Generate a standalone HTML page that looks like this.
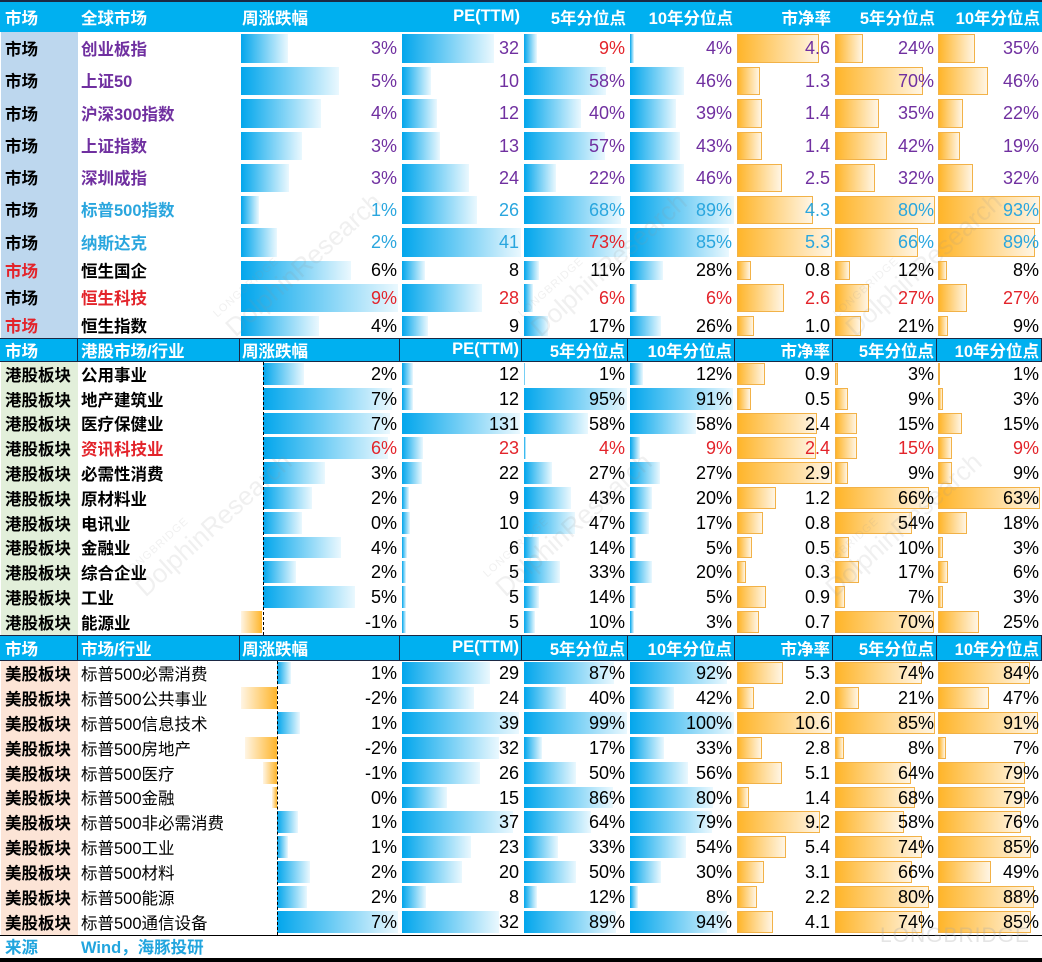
<!DOCTYPE html>
<html><head><meta charset="utf-8">
<style>
*{box-sizing:border-box}
body{margin:0;width:1042px;height:962px;background:#fff;position:relative;overflow:hidden;font-family:"Liberation Sans","Noto Sans CJK SC",sans-serif;color:#000}
.row{position:absolute;left:0;width:1042px}
.c{position:absolute;top:0;bottom:0;display:flex;align-items:center;white-space:nowrap}
.c1{left:0;width:78px}
.c2{left:78px;width:162px}
.c3{left:240px;width:160px}
.c4{left:400px;width:122px}
.c5{left:522px;width:106px}
.c6{left:628px;width:107px}
.c7{left:735px;width:98px}
.c8{left:833px;width:104px}
.c9{left:937px;width:105px}
.v{justify-content:flex-end;padding-right:3px;font-size:18px}
.l{font-size:16.5px;font-weight:bold;padding-left:5px;padding-bottom:2px}
.c2.l{padding-left:3px}
.n{font-weight:normal}
.v span{position:relative;z-index:2}
.c b{position:absolute;top:2px;bottom:2px;left:2px}
.c3 b,.c9 b{left:1px}
.s2 .c b{top:1px;bottom:2px}
.bb{background:linear-gradient(to right,#02A6EC,#EAF8FE)}
.ob{background:linear-gradient(to right,#FFB52A,#FFF5E4);border:1px solid #F2B248}
.nb{background:linear-gradient(to right,#FFF5E4,#FFB52A)}
.pu{color:#7030A0}
.bl{color:#2AA6DE}
.rd{color:#E3242B}
.k{color:#000}
.h{background:#00B0F0;color:#fff;font-weight:bold;font-size:16.5px}
.h .c{padding-left:5px;padding-bottom:1px}
.h .c2{padding-left:3px}
.h .c3{padding-left:2px}
.h .r{justify-content:flex-end;padding-right:2px;padding-left:0}
.h2{border-top:1px solid #1b2844;border-bottom:1px solid #1b2844}
.h2 .c{border-right:1px solid #1b2844}
.wm{position:absolute;color:rgba(150,150,150,0.14);font-size:26px;transform:rotate(-42deg);transform-origin:left bottom;white-space:nowrap;z-index:5}
.wm small{display:block;font-size:11px;letter-spacing:1px}
</style></head><body>

<!-- column 1 backgrounds -->
<div style="position:absolute;left:1px;top:32px;width:77px;height:306px;background:#BDD7EE"></div>
<div style="position:absolute;left:1px;top:362px;width:77px;height:273px;background:#E2EFDA"></div>
<div style="position:absolute;left:1px;top:661px;width:77px;height:274px;background:#FCE4D6"></div>

<!-- header 1 -->
<div class="row h" style="top:0;height:32px;border-top:2px solid #1b2844">
<div class="c c1">市场</div><div class="c c2">全球市场</div><div class="c c3">周涨跌幅</div>
<div class="c c4 r">PE(TTM)</div><div class="c c5 r">5年分位点</div><div class="c c6 r">10年分位点</div>
<div class="c c7 r">市净率</div><div class="c c8 r">5年分位点</div><div class="c c9 r">10年分位点</div>
</div>

<!-- section 1 -->
<div class="row pu" style="top:32px;height:33px">
<div class="c c1 l k">市场</div><div class="c c2 l">创业板指</div>
<div class="c c3 v"><b class="bb" style="width:47px"></b><span>3%</span></div>
<div class="c c4 v"><b class="bb" style="width:92px"></b><span>32</span></div>
<div class="c c5 v rd"><b class="bb" style="width:13px"></b><span>9%</span></div>
<div class="c c6 v"><b class="bb" style="width:4px"></b><span>4%</span></div>
<div class="c c7 v"><b class="ob" style="width:82px"></b><span>4.6</span></div>
<div class="c c8 v"><b class="ob" style="width:28px"></b><span>24%</span></div>
<div class="c c9 v"><b class="ob" style="width:37px"></b><span>35%</span></div>
</div>
<div class="row pu" style="top:65px;height:32px">
<div class="c c1 l k">市场</div><div class="c c2 l">上证50</div>
<div class="c c3 v"><b class="bb" style="width:98px"></b><span>5%</span></div>
<div class="c c4 v"><b class="bb" style="width:29px"></b><span>10</span></div>
<div class="c c5 v"><b class="bb" style="width:82px"></b><span>58%</span></div>
<div class="c c6 v"><b class="bb" style="width:54px"></b><span>46%</span></div>
<div class="c c7 v"><b class="ob" style="width:23px"></b><span>1.3</span></div>
<div class="c c8 v"><b class="ob" style="width:88px"></b><span>70%</span></div>
<div class="c c9 v"><b class="ob" style="width:50px"></b><span>46%</span></div>
</div>
<div class="row pu" style="top:97px;height:33px">
<div class="c c1 l k">市场</div><div class="c c2 l">沪深300指数</div>
<div class="c c3 v"><b class="bb" style="width:80px"></b><span>4%</span></div>
<div class="c c4 v"><b class="bb" style="width:35px"></b><span>12</span></div>
<div class="c c5 v"><b class="bb" style="width:57px"></b><span>40%</span></div>
<div class="c c6 v"><b class="bb" style="width:46px"></b><span>39%</span></div>
<div class="c c7 v"><b class="ob" style="width:25px"></b><span>1.4</span></div>
<div class="c c8 v"><b class="ob" style="width:44px"></b><span>35%</span></div>
<div class="c c9 v"><b class="ob" style="width:25px"></b><span>22%</span></div>
</div>
<div class="row pu" style="top:130px;height:32px">
<div class="c c1 l k">市场</div><div class="c c2 l">上证指数</div>
<div class="c c3 v"><b class="bb" style="width:61px"></b><span>3%</span></div>
<div class="c c4 v"><b class="bb" style="width:38px"></b><span>13</span></div>
<div class="c c5 v"><b class="bb" style="width:81px"></b><span>57%</span></div>
<div class="c c6 v"><b class="bb" style="width:50px"></b><span>43%</span></div>
<div class="c c7 v"><b class="ob" style="width:25px"></b><span>1.4</span></div>
<div class="c c8 v"><b class="ob" style="width:52px"></b><span>42%</span></div>
<div class="c c9 v"><b class="ob" style="width:22px"></b><span>19%</span></div>
</div>
<div class="row pu" style="top:162px;height:32px">
<div class="c c1 l k">市场</div><div class="c c2 l">深圳成指</div>
<div class="c c3 v"><b class="bb" style="width:48px"></b><span>3%</span></div>
<div class="c c4 v"><b class="bb" style="width:67px"></b><span>24</span></div>
<div class="c c5 v"><b class="bb" style="width:32px"></b><span>22%</span></div>
<div class="c c6 v"><b class="bb" style="width:54px"></b><span>46%</span></div>
<div class="c c7 v"><b class="ob" style="width:45px"></b><span>2.5</span></div>
<div class="c c8 v"><b class="ob" style="width:40px"></b><span>32%</span></div>
<div class="c c9 v"><b class="ob" style="width:35px"></b><span>32%</span></div>
</div>
<div class="row bl" style="top:194px;height:32px">
<div class="c c1 l k">市场</div><div class="c c2 l">标普500指数</div>
<div class="c c3 v"><b class="bb" style="width:18px"></b><span>1%</span></div>
<div class="c c4 v"><b class="bb" style="width:75px"></b><span>26</span></div>
<div class="c c5 v"><b class="bb" style="width:97px"></b><span>68%</span></div>
<div class="c c6 v"><b class="bb" style="width:104px"></b><span>89%</span></div>
<div class="c c7 v"><b class="ob" style="width:76px"></b><span>4.3</span></div>
<div class="c c8 v"><b class="ob" style="width:100px"></b><span>80%</span></div>
<div class="c c9 v"><b class="ob" style="width:102px"></b><span>93%</span></div>
</div>
<div class="row bl" style="top:226px;height:33px">
<div class="c c1 l k">市场</div><div class="c c2 l">纳斯达克</div>
<div class="c c3 v"><b class="bb" style="width:36px"></b><span>2%</span></div>
<div class="c c4 v"><b class="bb" style="width:119px"></b><span>41</span></div>
<div class="c c5 v rd"><b class="bb" style="width:103px"></b><span>73%</span></div>
<div class="c c6 v"><b class="bb" style="width:99px"></b><span>85%</span></div>
<div class="c c7 v"><b class="ob" style="width:95px"></b><span>5.3</span></div>
<div class="c c8 v"><b class="ob" style="width:83px"></b><span>66%</span></div>
<div class="c c9 v"><b class="ob" style="width:97px"></b><span>89%</span></div>
</div>
<div class="row k" style="top:259px;height:23px">
<div class="c c1 l rd">市场</div><div class="c c2 l">恒生国企</div>
<div class="c c3 v"><b class="bb" style="width:110px"></b><span>6%</span></div>
<div class="c c4 v"><b class="bb" style="width:23px"></b><span>8</span></div>
<div class="c c5 v"><b class="bb" style="width:15px"></b><span>11%</span></div>
<div class="c c6 v"><b class="bb" style="width:33px"></b><span>28%</span></div>
<div class="c c7 v"><b class="ob" style="width:14px"></b><span>0.8</span></div>
<div class="c c8 v"><b class="ob" style="width:15px"></b><span>12%</span></div>
<div class="c c9 v"><b class="ob" style="width:9px"></b><span>8%</span></div>
</div>
<div class="row rd" style="top:282px;height:32px">
<div class="c c1 l k">市场</div><div class="c c2 l">恒生科技</div>
<div class="c c3 v"><b class="bb" style="width:157px"></b><span>9%</span></div>
<div class="c c4 v"><b class="bb" style="width:80px"></b><span>28</span></div>
<div class="c c5 v"><b class="bb" style="width:9px"></b><span>6%</span></div>
<div class="c c6 v"><b class="bb" style="width:7px"></b><span>6%</span></div>
<div class="c c7 v"><b class="ob" style="width:47px"></b><span>2.6</span></div>
<div class="c c8 v"><b class="ob" style="width:34px"></b><span>27%</span></div>
<div class="c c9 v"><b class="ob" style="width:29px"></b><span>27%</span></div>
</div>
<div class="row k" style="top:314px;height:24px">
<div class="c c1 l rd">市场</div><div class="c c2 l">恒生指数</div>
<div class="c c3 v"><b class="bb" style="width:78px"></b><span>4%</span></div>
<div class="c c4 v"><b class="bb" style="width:26px"></b><span>9</span></div>
<div class="c c5 v"><b class="bb" style="width:24px"></b><span>17%</span></div>
<div class="c c6 v"><b class="bb" style="width:31px"></b><span>26%</span></div>
<div class="c c7 v"><b class="ob" style="width:17px"></b><span>1.0</span></div>
<div class="c c8 v"><b class="ob" style="width:26px"></b><span>21%</span></div>
<div class="c c9 v"><b class="ob" style="width:10px"></b><span>9%</span></div>
</div>

<!-- header 2 -->
<div class="row h h2" style="top:338px;height:24px">
<div class="c c1">市场</div><div class="c c2">港股市场/行业</div><div class="c c3">周涨跌幅</div>
<div class="c c4 r">PE(TTM)</div><div class="c c5 r">5年分位点</div><div class="c c6 r">10年分位点</div>
<div class="c c7 r">市净率</div><div class="c c8 r">5年分位点</div><div class="c c9 r">10年分位点</div>
</div>

<!-- section 2 -->
<div style="position:absolute;left:263px;top:362px;height:273px;border-left:1px dashed #000;z-index:3"></div>
<div class="row s2" style="top:362px;height:25px">
<div class="c c1 l">港股板块</div><div class="c c2 l">公用事业</div>
<div class="c c3 v"><b class="bb" style="left:23px;width:41px"></b><span>2%</span></div>
<div class="c c4 v"><b class="bb" style="width:11px"></b><span>12</span></div>
<div class="c c5 v"><b class="bb" style="width:1px"></b><span>1%</span></div>
<div class="c c6 v"><b class="bb" style="width:13px"></b><span>12%</span></div>
<div class="c c7 v"><b class="ob" style="width:28px"></b><span>0.9</span></div>
<div class="c c8 v"><b class="ob" style="width:3px"></b><span>3%</span></div>
<div class="c c9 v"><b class="ob" style="width:2px"></b><span>1%</span></div>
</div>
<div class="row s2" style="top:387px;height:25px">
<div class="c c1 l">港股板块</div><div class="c c2 l">地产建筑业</div>
<div class="c c3 v"><b class="bb" style="left:23px;width:129px"></b><span>7%</span></div>
<div class="c c4 v"><b class="bb" style="width:11px"></b><span>12</span></div>
<div class="c c5 v"><b class="bb" style="width:103px"></b><span>95%</span></div>
<div class="c c6 v"><b class="bb" style="width:103px"></b><span>91%</span></div>
<div class="c c7 v"><b class="ob" style="width:14px"></b><span>0.5</span></div>
<div class="c c8 v"><b class="ob" style="width:13px"></b><span>9%</span></div>
<div class="c c9 v"><b class="ob" style="width:5px"></b><span>3%</span></div>
</div>
<div class="row s2" style="top:412px;height:24px">
<div class="c c1 l">港股板块</div><div class="c c2 l">医疗保健业</div>
<div class="c c3 v"><b class="bb" style="left:23px;width:127px"></b><span>7%</span></div>
<div class="c c4 v"><b class="bb" style="width:118px"></b><span>131</span></div>
<div class="c c5 v"><b class="bb" style="width:64px"></b><span>58%</span></div>
<div class="c c6 v"><b class="bb" style="width:66px"></b><span>58%</span></div>
<div class="c c7 v"><b class="ob" style="width:80px"></b><span>2.4</span></div>
<div class="c c8 v"><b class="ob" style="width:22px"></b><span>15%</span></div>
<div class="c c9 v"><b class="ob" style="width:24px"></b><span>15%</span></div>
</div>
<div class="row s2 rd" style="top:436px;height:25px">
<div class="c c1 l k">港股板块</div><div class="c c2 l">资讯科技业</div>
<div class="c c3 v"><b class="bb" style="left:23px;width:125px"></b><span>6%</span></div>
<div class="c c4 v"><b class="bb" style="width:21px"></b><span>23</span></div>
<div class="c c5 v"><b class="bb" style="width:2px"></b><span>4%</span></div>
<div class="c c6 v"><b class="bb" style="width:10px"></b><span>9%</span></div>
<div class="c c7 v"><b class="ob" style="width:79px"></b><span>2.4</span></div>
<div class="c c8 v"><b class="ob" style="width:22px"></b><span>15%</span></div>
<div class="c c9 v"><b class="ob" style="width:14px"></b><span>9%</span></div>
</div>
<div class="row s2" style="top:461px;height:25px">
<div class="c c1 l">港股板块</div><div class="c c2 l">必需性消费</div>
<div class="c c3 v"><b class="bb" style="left:23px;width:62px"></b><span>3%</span></div>
<div class="c c4 v"><b class="bb" style="width:20px"></b><span>22</span></div>
<div class="c c5 v"><b class="bb" style="width:28px"></b><span>27%</span></div>
<div class="c c6 v"><b class="bb" style="width:30px"></b><span>27%</span></div>
<div class="c c7 v"><b class="ob" style="width:95px"></b><span>2.9</span></div>
<div class="c c8 v"><b class="ob" style="width:13px"></b><span>9%</span></div>
<div class="c c9 v"><b class="ob" style="width:14px"></b><span>9%</span></div>
</div>
<div class="row s2" style="top:486px;height:25px">
<div class="c c1 l">港股板块</div><div class="c c2 l">原材料业</div>
<div class="c c3 v"><b class="bb" style="left:23px;width:49px"></b><span>2%</span></div>
<div class="c c4 v"><b class="bb" style="width:7px"></b><span>9</span></div>
<div class="c c5 v"><b class="bb" style="width:47px"></b><span>43%</span></div>
<div class="c c6 v"><b class="bb" style="width:22px"></b><span>20%</span></div>
<div class="c c7 v"><b class="ob" style="width:39px"></b><span>1.2</span></div>
<div class="c c8 v"><b class="ob" style="width:94px"></b><span>66%</span></div>
<div class="c c9 v"><b class="ob" style="width:102px"></b><span>63%</span></div>
</div>
<div class="row s2" style="top:511px;height:25px">
<div class="c c1 l">港股板块</div><div class="c c2 l">电讯业</div>
<div class="c c3 v"><b class="bb" style="left:23px;width:39px"></b><span>0%</span></div>
<div class="c c4 v"><b class="bb" style="width:8px"></b><span>10</span></div>
<div class="c c5 v"><b class="bb" style="width:51px"></b><span>47%</span></div>
<div class="c c6 v"><b class="bb" style="width:19px"></b><span>17%</span></div>
<div class="c c7 v"><b class="ob" style="width:26px"></b><span>0.8</span></div>
<div class="c c8 v"><b class="ob" style="width:77px"></b><span>54%</span></div>
<div class="c c9 v"><b class="ob" style="width:29px"></b><span>18%</span></div>
</div>
<div class="row s2" style="top:536px;height:24px">
<div class="c c1 l">港股板块</div><div class="c c2 l">金融业</div>
<div class="c c3 v"><b class="bb" style="left:23px;width:78px"></b><span>4%</span></div>
<div class="c c4 v"><b class="bb" style="width:5px"></b><span>6</span></div>
<div class="c c5 v"><b class="bb" style="width:15px"></b><span>14%</span></div>
<div class="c c6 v"><b class="bb" style="width:6px"></b><span>5%</span></div>
<div class="c c7 v"><b class="ob" style="width:15px"></b><span>0.5</span></div>
<div class="c c8 v"><b class="ob" style="width:14px"></b><span>10%</span></div>
<div class="c c9 v"><b class="ob" style="width:5px"></b><span>3%</span></div>
</div>
<div class="row s2" style="top:560px;height:25px">
<div class="c c1 l">港股板块</div><div class="c c2 l">综合企业</div>
<div class="c c3 v"><b class="bb" style="left:23px;width:33px"></b><span>2%</span></div>
<div class="c c4 v"><b class="bb" style="width:4px"></b><span>5</span></div>
<div class="c c5 v"><b class="bb" style="width:36px"></b><span>33%</span></div>
<div class="c c6 v"><b class="bb" style="width:22px"></b><span>20%</span></div>
<div class="c c7 v"><b class="ob" style="width:9px"></b><span>0.3</span></div>
<div class="c c8 v"><b class="ob" style="width:24px"></b><span>17%</span></div>
<div class="c c9 v"><b class="ob" style="width:10px"></b><span>6%</span></div>
</div>
<div class="row s2" style="top:585px;height:25px">
<div class="c c1 l">港股板块</div><div class="c c2 l">工业</div>
<div class="c c3 v"><b class="bb" style="left:23px;width:92px"></b><span>5%</span></div>
<div class="c c4 v"><b class="bb" style="width:4px"></b><span>5</span></div>
<div class="c c5 v"><b class="bb" style="width:15px"></b><span>14%</span></div>
<div class="c c6 v"><b class="bb" style="width:6px"></b><span>5%</span></div>
<div class="c c7 v"><b class="ob" style="width:29px"></b><span>0.9</span></div>
<div class="c c8 v"><b class="ob" style="width:10px"></b><span>7%</span></div>
<div class="c c9 v"><b class="ob" style="width:5px"></b><span>3%</span></div>
</div>
<div class="row s2" style="top:610px;height:25px">
<div class="c c1 l">港股板块</div><div class="c c2 l">能源业</div>
<div class="c c3 v"><b class="nb" style="left:1px;width:21px"></b><span>-1%</span></div>
<div class="c c4 v"><b class="bb" style="width:4px"></b><span>5</span></div>
<div class="c c5 v"><b class="bb" style="width:11px"></b><span>10%</span></div>
<div class="c c6 v"><b class="bb" style="width:4px"></b><span>3%</span></div>
<div class="c c7 v"><b class="ob" style="width:22px"></b><span>0.7</span></div>
<div class="c c8 v"><b class="ob" style="width:99px"></b><span>70%</span></div>
<div class="c c9 v"><b class="ob" style="width:41px"></b><span>25%</span></div>
</div>

<!-- header 3 -->
<div class="row h h2" style="top:635px;height:26px">
<div class="c c1">市场</div><div class="c c2">市场/行业</div><div class="c c3">周涨跌幅</div>
<div class="c c4 r">PE(TTM)</div><div class="c c5 r">5年分位点</div><div class="c c6 r">10年分位点</div>
<div class="c c7 r">市净率</div><div class="c c8 r">5年分位点</div><div class="c c9 r">10年分位点</div>
</div>

<!-- section 3 -->
<div style="position:absolute;left:277px;top:661px;height:274px;border-left:1px dashed #000;z-index:3"></div>
<div class="row s2" style="top:661px;height:25px">
<div class="c c1 l">美股板块</div><div class="c c2 l n">标普500必需消费</div>
<div class="c c3 v"><b class="bb" style="left:37px;width:14px"></b><span>1%</span></div>
<div class="c c4 v"><b class="bb" style="width:88px"></b><span>29</span></div>
<div class="c c5 v"><b class="bb" style="width:90px"></b><span>87%</span></div>
<div class="c c6 v"><b class="bb" style="width:97px"></b><span>92%</span></div>
<div class="c c7 v"><b class="ob" style="width:46px"></b><span>5.3</span></div>
<div class="c c8 v"><b class="ob" style="width:87px"></b><span>74%</span></div>
<div class="c c9 v"><b class="ob" style="width:92px"></b><span>84%</span></div>
</div>
<div class="row s2" style="top:686px;height:25px">
<div class="c c1 l">美股板块</div><div class="c c2 l n">标普500公共事业</div>
<div class="c c3 v"><b class="nb" style="left:1px;width:36px"></b><span>-2%</span></div>
<div class="c c4 v"><b class="bb" style="width:72px"></b><span>24</span></div>
<div class="c c5 v"><b class="bb" style="width:42px"></b><span>40%</span></div>
<div class="c c6 v"><b class="bb" style="width:44px"></b><span>42%</span></div>
<div class="c c7 v"><b class="ob" style="width:17px"></b><span>2.0</span></div>
<div class="c c8 v"><b class="ob" style="width:24px"></b><span>21%</span></div>
<div class="c c9 v"><b class="ob" style="width:51px"></b><span>47%</span></div>
</div>
<div class="row s2" style="top:711px;height:25px">
<div class="c c1 l">美股板块</div><div class="c c2 l n">标普500信息技术</div>
<div class="c c3 v"><b class="bb" style="left:37px;width:23px"></b><span>1%</span></div>
<div class="c c4 v"><b class="bb" style="width:117px"></b><span>39</span></div>
<div class="c c5 v"><b class="bb" style="width:103px"></b><span>99%</span></div>
<div class="c c6 v"><b class="bb" style="width:104px"></b><span>100%</span></div>
<div class="c c7 v"><b class="ob" style="width:95px"></b><span>10.6</span></div>
<div class="c c8 v"><b class="ob" style="width:100px"></b><span>85%</span></div>
<div class="c c9 v"><b class="ob" style="width:100px"></b><span>91%</span></div>
</div>
<div class="row s2" style="top:736px;height:25px">
<div class="c c1 l">美股板块</div><div class="c c2 l n">标普500房地产</div>
<div class="c c3 v"><b class="nb" style="left:5px;width:32px"></b><span>-2%</span></div>
<div class="c c4 v"><b class="bb" style="width:97px"></b><span>32</span></div>
<div class="c c5 v"><b class="bb" style="width:18px"></b><span>17%</span></div>
<div class="c c6 v"><b class="bb" style="width:34px"></b><span>33%</span></div>
<div class="c c7 v"><b class="ob" style="width:25px"></b><span>2.8</span></div>
<div class="c c8 v"><b class="ob" style="width:9px"></b><span>8%</span></div>
<div class="c c9 v"><b class="ob" style="width:8px"></b><span>7%</span></div>
</div>
<div class="row s2" style="top:761px;height:25px">
<div class="c c1 l">美股板块</div><div class="c c2 l n">标普500医疗</div>
<div class="c c3 v"><b class="nb" style="left:23px;width:14px"></b><span>-1%</span></div>
<div class="c c4 v"><b class="bb" style="width:78px"></b><span>26</span></div>
<div class="c c5 v"><b class="bb" style="width:52px"></b><span>50%</span></div>
<div class="c c6 v"><b class="bb" style="width:58px"></b><span>56%</span></div>
<div class="c c7 v"><b class="ob" style="width:45px"></b><span>5.1</span></div>
<div class="c c8 v"><b class="ob" style="width:76px"></b><span>64%</span></div>
<div class="c c9 v"><b class="ob" style="width:87px"></b><span>79%</span></div>
</div>
<div class="row s2" style="top:786px;height:24px">
<div class="c c1 l">美股板块</div><div class="c c2 l n">标普500金融</div>
<div class="c c3 v"><b class="nb" style="left:32px;width:5px"></b><span>0%</span></div>
<div class="c c4 v"><b class="bb" style="width:45px"></b><span>15</span></div>
<div class="c c5 v"><b class="bb" style="width:89px"></b><span>86%</span></div>
<div class="c c6 v"><b class="bb" style="width:83px"></b><span>80%</span></div>
<div class="c c7 v"><b class="ob" style="width:12px"></b><span>1.4</span></div>
<div class="c c8 v"><b class="ob" style="width:80px"></b><span>68%</span></div>
<div class="c c9 v"><b class="ob" style="width:87px"></b><span>79%</span></div>
</div>
<div class="row s2" style="top:810px;height:25px">
<div class="c c1 l">美股板块</div><div class="c c2 l n">标普500非必需消费</div>
<div class="c c3 v"><b class="bb" style="left:37px;width:21px"></b><span>1%</span></div>
<div class="c c4 v"><b class="bb" style="width:111px"></b><span>37</span></div>
<div class="c c5 v"><b class="bb" style="width:67px"></b><span>64%</span></div>
<div class="c c6 v"><b class="bb" style="width:82px"></b><span>79%</span></div>
<div class="c c7 v"><b class="ob" style="width:83px"></b><span>9.2</span></div>
<div class="c c8 v"><b class="ob" style="width:69px"></b><span>58%</span></div>
<div class="c c9 v"><b class="ob" style="width:83px"></b><span>76%</span></div>
</div>
<div class="row s2" style="top:835px;height:25px">
<div class="c c1 l">美股板块</div><div class="c c2 l n">标普500工业</div>
<div class="c c3 v"><b class="bb" style="left:37px;width:11px"></b><span>1%</span></div>
<div class="c c4 v"><b class="bb" style="width:69px"></b><span>23</span></div>
<div class="c c5 v"><b class="bb" style="width:34px"></b><span>33%</span></div>
<div class="c c6 v"><b class="bb" style="width:56px"></b><span>54%</span></div>
<div class="c c7 v"><b class="ob" style="width:49px"></b><span>5.4</span></div>
<div class="c c8 v"><b class="ob" style="width:87px"></b><span>74%</span></div>
<div class="c c9 v"><b class="ob" style="width:93px"></b><span>85%</span></div>
</div>
<div class="row s2" style="top:860px;height:25px">
<div class="c c1 l">美股板块</div><div class="c c2 l n">标普500材料</div>
<div class="c c3 v"><b class="bb" style="left:37px;width:33px"></b><span>2%</span></div>
<div class="c c4 v"><b class="bb" style="width:60px"></b><span>20</span></div>
<div class="c c5 v"><b class="bb" style="width:52px"></b><span>50%</span></div>
<div class="c c6 v"><b class="bb" style="width:31px"></b><span>30%</span></div>
<div class="c c7 v"><b class="ob" style="width:27px"></b><span>3.1</span></div>
<div class="c c8 v"><b class="ob" style="width:77px"></b><span>66%</span></div>
<div class="c c9 v"><b class="ob" style="width:53px"></b><span>49%</span></div>
</div>
<div class="row s2" style="top:885px;height:25px">
<div class="c c1 l">美股板块</div><div class="c c2 l n">标普500能源</div>
<div class="c c3 v"><b class="bb" style="left:37px;width:30px"></b><span>2%</span></div>
<div class="c c4 v"><b class="bb" style="width:24px"></b><span>8</span></div>
<div class="c c5 v"><b class="bb" style="width:13px"></b><span>12%</span></div>
<div class="c c6 v"><b class="bb" style="width:8px"></b><span>8%</span></div>
<div class="c c7 v"><b class="ob" style="width:20px"></b><span>2.2</span></div>
<div class="c c8 v"><b class="ob" style="width:94px"></b><span>80%</span></div>
<div class="c c9 v"><b class="ob" style="width:96px"></b><span>88%</span></div>
</div>
<div class="row s2" style="top:910px;height:25px">
<div class="c c1 l">美股板块</div><div class="c c2 l n">标普500通信设备</div>
<div class="c c3 v"><b class="bb" style="left:37px;width:121px"></b><span>7%</span></div>
<div class="c c4 v"><b class="bb" style="width:97px"></b><span>32</span></div>
<div class="c c5 v"><b class="bb" style="width:92px"></b><span>89%</span></div>
<div class="c c6 v"><b class="bb" style="width:97px"></b><span>94%</span></div>
<div class="c c7 v"><b class="ob" style="width:36px"></b><span>4.1</span></div>
<div class="c c8 v"><b class="ob" style="width:87px"></b><span>74%</span></div>
<div class="c c9 v"><b class="ob" style="width:93px"></b><span>85%</span></div>
</div>

<!-- footer -->
<div style="position:absolute;left:0;top:935px;width:1042px;height:1px;background:#000"></div>
<div class="row" style="top:936px;height:22px;color:#22A5DE">
<div class="c c1 l">来源</div><div class="c c2 l">Wind，海豚投研</div>
</div>
<div style="position:absolute;left:0;top:958px;width:1042px;height:4px;background:#000"></div>
<div style="position:absolute;left:880px;top:924px;font-size:21px;color:rgba(170,170,170,0.3);letter-spacing:1px">LONGBRIDGE</div>

<!-- watermarks -->
<div class="wm" style="left:240px;top:300px"><small>LONGBRIDGE</small>DolphinResearch</div>
<div class="wm" style="left:545px;top:300px"><small>LONGBRIDGE</small>DolphinResearch</div>
<div class="wm" style="left:860px;top:300px"><small>LONGBRIDGE</small>DolphinResearch</div>
<div class="wm" style="left:150px;top:560px"><small>LONGBRIDGE</small>DolphinResearch</div>
<div class="wm" style="left:510px;top:560px"><small>LONGBRIDGE</small>DolphinResearch</div>
<div class="wm" style="left:840px;top:560px"><small>LONGBRIDGE</small>DolphinResearch</div>

</body></html>
